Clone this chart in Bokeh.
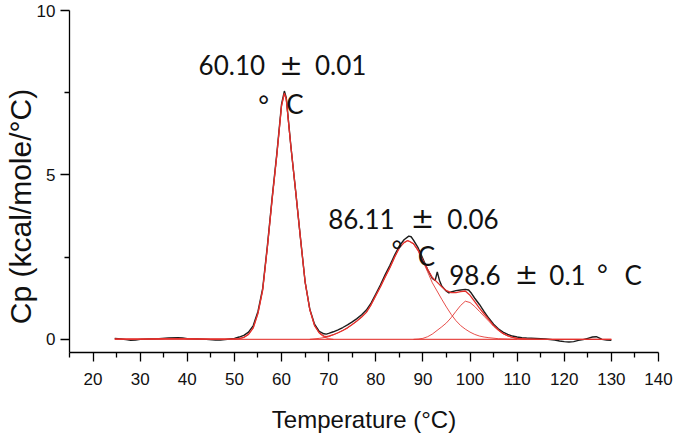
from bokeh.plotting import figure
from bokeh.models import FixedTicker, Label
from bokeh.embed import file_html
from bokeh.resources import INLINE

# ---------------- data ----------------
# measured DSC trace (black)
data_T = [24.6, 26, 27, 28, 29, 30, 32, 34, 36, 38, 39, 40, 42, 44, 46, 47, 48, 49, 50,
          51, 52, 53, 54, 55, 56, 57, 58, 59, 60, 60.6, 61, 62, 63, 64, 65, 66, 67, 68,
          69, 69.5, 70, 71, 72, 73, 74, 75, 76, 77, 78, 79, 80, 81, 82, 83, 84, 85, 86,
          87, 87.5, 88, 89, 90, 91, 92, 92.6, 93.05, 93.5, 94, 94.8, 95.5, 96, 97, 98,
          99, 99.7, 100.3, 101, 102, 103, 104, 105, 106, 107, 108, 109, 110, 111, 112,
          114, 116, 118, 119, 120, 121, 122, 123, 124, 125, 126, 126.8, 127.5, 128, 129, 130]
data_Cp = [0.03, 0.01, -0.01, -0.03, -0.02, 0.0, 0.01, 0.02, 0.04, 0.05, 0.04, 0.02, 0.01, 0.0, -0.02, -0.02, -0.01, 0.01, 0.03,
           0.07, 0.12, 0.22, 0.42, 0.85, 1.55, 2.85, 4.3, 5.65, 7.15, 7.55, 7.35, 5.85, 4.5, 3.1, 1.75, 0.92, 0.46, 0.24,
           0.17, 0.16, 0.18, 0.23, 0.29, 0.36, 0.44, 0.53, 0.63, 0.75, 0.89, 1.1, 1.38, 1.66, 1.97, 2.25, 2.56, 2.84, 3.03,
           3.14, 3.12, 3.02, 2.78, 2.45, 2.12, 1.85, 1.79, 2.05, 1.8, 1.62, 1.49, 1.41, 1.44, 1.48, 1.5,
           1.52, 1.5, 1.4, 1.25, 1.06, 0.84, 0.64, 0.46, 0.32, 0.22, 0.15, 0.1, 0.07, 0.05, 0.04,
           0.03, 0.01, -0.02, -0.05, -0.07, -0.08, -0.07, -0.03, -0.01, 0.03, 0.07, 0.08, 0.04, 0.0, -0.02, -0.03]

# fitted sum (red)
fit_T = [24.6, 30, 35, 40, 45, 50, 51, 52, 53, 54, 55, 56, 57, 58, 59, 60, 60.6, 61, 62, 63, 64, 65,
         66, 67, 68, 69, 69.5, 70, 71, 72, 73, 74, 75, 76, 77, 78, 79, 80, 81, 82, 83, 84, 85, 86,
         86.7, 87, 88, 89, 90, 91, 92, 93, 94, 95, 96, 97, 98, 99, 100, 101, 102, 103, 104, 105,
         106, 107, 108, 109, 110, 112, 115, 120, 125, 130]
fit_Cp = [0.01, 0.01, 0.02, 0.02, 0.01, 0.01, 0.02, 0.06, 0.15, 0.35, 0.79, 1.5, 2.8, 4.25, 5.6, 7.1, 7.48, 7.3, 5.84, 4.5, 3.1, 1.75,
          0.9, 0.42, 0.2, 0.1, 0.08, 0.1, 0.14, 0.2, 0.27, 0.35, 0.45, 0.56, 0.68, 0.82, 1.05, 1.33, 1.6, 1.9, 2.18, 2.5, 2.78, 2.94,
          3.0, 2.99, 2.91, 2.71, 2.41, 2.13, 1.88, 1.74, 1.6, 1.48, 1.42, 1.42, 1.45, 1.47, 1.34, 1.15, 0.95, 0.77, 0.6, 0.42,
          0.29, 0.18, 0.11, 0.06, 0.03, 0.01, 0.0, 0.0, 0.0, 0.0]

# fitted components (red)
peak1_T = [50, 51, 52, 53, 54, 55, 56, 57, 58, 59, 60, 60.6, 61, 62, 63, 64, 65, 66, 67, 68, 69, 70, 71]
peak1_Cp = [0.0, 0.02, 0.06, 0.15, 0.35, 0.79, 1.5, 2.8, 4.25, 5.6, 7.1, 7.48, 7.3, 5.84, 4.5, 3.1, 1.75, 0.9, 0.42, 0.18, 0.07, 0.02, 0.0]

peak2_T = [66, 68, 70, 71, 72, 73, 74, 75, 76, 77, 78, 79, 80, 81, 82, 83, 84, 85, 86, 86.7, 87, 88, 89, 90,
           91, 92, 93, 94, 95, 96, 97, 98, 99, 100, 101, 102, 103, 104, 106, 108, 110]
peak2_Cp = [0.0, 0.03, 0.08, 0.14, 0.2, 0.27, 0.35, 0.45, 0.56, 0.68, 0.82, 1.05, 1.33, 1.6, 1.9, 2.18, 2.5, 2.78, 2.94, 3.0, 2.99, 2.9, 2.68, 2.38,
            2.05, 1.72, 1.47, 1.22, 0.98, 0.76, 0.57, 0.42, 0.31, 0.22, 0.15, 0.1, 0.07, 0.05, 0.02, 0.01, 0.0]

peak3_T = [88, 89, 90, 91, 92, 93, 94, 95, 96, 97, 98, 99, 100, 101, 102, 103, 104, 105, 106, 107, 108, 109, 110, 111, 112]
peak3_Cp = [0.0, 0.01, 0.03, 0.08, 0.16, 0.27, 0.38, 0.5, 0.66, 0.85, 1.03, 1.16, 1.12, 1.0, 0.85, 0.7, 0.55, 0.4, 0.27, 0.17, 0.1, 0.06, 0.03, 0.01, 0.0]

baseline_T = [24.6, 130]
baseline_Cp = [0.0, 0.0]

x_ticks = [20, 30, 40, 50, 60, 70, 80, 90, 100, 110, 120, 130, 140]
x_minor = [15, 25, 35, 45, 55, 65, 75, 85, 95, 105, 115, 125, 135]
y_ticks = [0, 5, 10]
y_minor = [2.5, 7.5]

peak_labels = [("60.10", "0.01"), ("86.11", "0.06"), ("98.6", "0.1")]

# ---------------- figure ----------------
RED = "#e3302c"
p = figure(width=680, height=442, x_range=(15, 140), y_range=(-0.4, 10),
           output_backend="svg", toolbar_location=None,
           min_border_left=64, min_border_right=22, min_border_top=10, min_border_bottom=90)
p.outline_line_color = None
p.grid.visible = False
p.background_fill_color = "white"
p.border_fill_color = "white"

for ax in (p.xaxis[0], p.yaxis[0]):
    ax.axis_line_color = "black"
    ax.axis_line_width = 1.3
    ax.major_tick_line_color = "black"
    ax.minor_tick_line_color = "black"
    ax.major_tick_line_width = 1.3
    ax.minor_tick_line_width = 1.3
    ax.major_tick_in = 0
    ax.major_tick_out = 9
    ax.minor_tick_in = 0
    ax.minor_tick_out = 5
    ax.major_label_text_font = "Liberation Sans"
    ax.major_label_text_font_size = "17px"
    ax.major_label_text_color = "#111111"
    ax.axis_label_text_font = "Liberation Sans"
    ax.axis_label_text_font_style = "normal"
    ax.axis_label_text_color = "#111111"

p.xaxis.ticker = FixedTicker(ticks=x_ticks, minor_ticks=x_minor)
p.yaxis.ticker = FixedTicker(ticks=y_ticks, minor_ticks=y_minor)
p.xaxis.major_label_standoff = 11
p.yaxis.major_label_standoff = 5

p.xaxis.axis_label = "Temperature (°C)"
p.xaxis.axis_label_text_font_size = "24px"
p.xaxis.axis_label_standoff = 18
p.yaxis.axis_label = "Cp (kcal/mole/°C)" + "\u00a0" * 6
p.yaxis.axis_label_text_font_size = "30px"
p.yaxis.axis_label_standoff = -3

# curves
p.line(data_T, data_Cp, line_color="#1c1c1c", line_width=1.4)
p.line(baseline_T, baseline_Cp, line_color=RED, line_width=1.1, line_alpha=0.85)
p.line(peak1_T, peak1_Cp, line_color=RED, line_width=1.0, line_alpha=0.85)
p.line(peak2_T, peak2_Cp, line_color=RED, line_width=1.0, line_alpha=0.85)
p.line(peak3_T, peak3_Cp, line_color=RED, line_width=1.0, line_alpha=0.85)
p.line(fit_T, fit_Cp, line_color=RED, line_width=1.3)

# annotations
def txt(x, y, s, font="Lato", size="26px", align="left"):
    p.add_layout(Label(x=x, y=y, text=s, text_align=align, text_baseline="alphabetic",
                       text_font=font, text_font_size=size, text_color="#111111"))

# peak 1
txt(42.4, 8.33, peak_labels[0][0])
txt(62.0, 8.33, "±", font="DejaVu Sans", size="28px", align="center")
txt(67.1, 8.33, peak_labels[0][1])
txt(56.2, 7.13, "°", align="center")
txt(61.0, 7.15, "C")
# peak 2
txt(69.9, 3.66, peak_labels[1][0])
txt(89.9, 3.66, "±", font="DejaVu Sans", size="28px", align="center")
txt(95.16, 3.66, peak_labels[1][1])
txt(84.5, 2.71, "°", align="center")
txt(88.9, 2.53, "C")
# peak 3
txt(95.6, 1.97, peak_labels[2][0])
txt(112.0, 1.97, "±", font="DejaVu Sans", size="28px", align="center")
txt(116.84, 1.97, peak_labels[2][1])
txt(128.1, 2.0, "°", align="center")
txt(132.8, 1.97, "C")

open("out.html", "w").write(file_html(p, INLINE))
